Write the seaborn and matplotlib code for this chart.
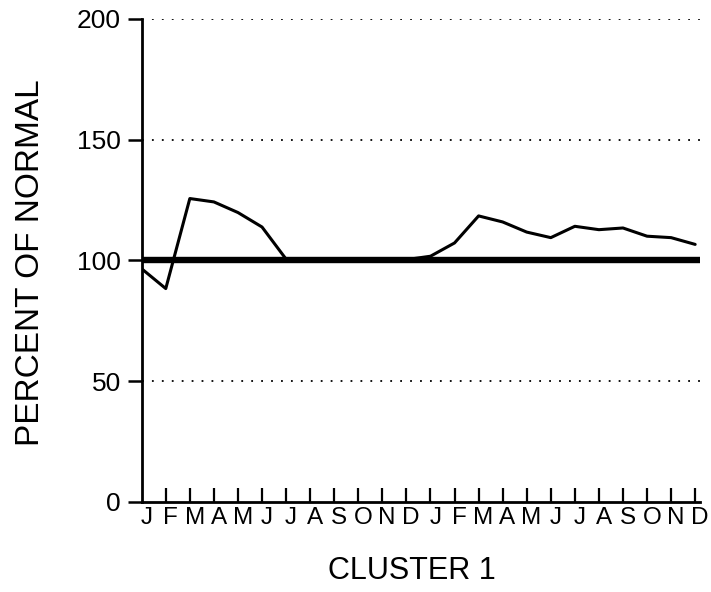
import matplotlib
matplotlib.use("Agg")
import matplotlib.pyplot as plt
import seaborn as sns
import pandas as pd

month_labels = ["J", "F", "M", "A", "M", "J", "J", "A", "S", "O", "N", "D",
                "J", "F", "M", "A", "M", "J", "J", "A", "S", "O", "N", "D"]
month_idx = list(range(24))
percent = [96.5, 88.3, 125.6, 124.2, 119.8, 113.8, 100.5, 100, 100, 100, 100, 100.3,
           101.7, 107.2, 118.4, 115.9, 111.7, 109.4, 114.1, 112.7, 113.4, 110.0,
           109.4, 106.6]
normal = 100
grid_levels = [50, 150, 200]
y_ticks = [0, 50, 100, 150, 200]

sns.set_style("white")
plt.rcParams["font.family"] = ["Liberation Sans", "DejaVu Sans"]
for k in ["text.color", "axes.labelcolor", "xtick.color", "ytick.color", "axes.edgecolor"]:
    plt.rcParams[k] = "black"
plt.rcParams["xtick.bottom"] = True
plt.rcParams["ytick.left"] = True

fig = plt.figure(figsize=(7.11, 5.92), dpi=100)
ax = fig.add_axes([0.1993, 0.1525, 0.7852, 0.8155])

df = pd.DataFrame({"month": month_idx, "pct": percent})
for g in grid_levels:
    ax.axhline(g, color="black", lw=1.3, linestyle=(0, (1, 4.5)), zorder=1)
ax.axhline(normal, color="black", lw=4.6, zorder=2)
sns.lineplot(data=df, x="month", y="pct", color="black", lw=2.2, ax=ax, zorder=3)

ax.set_xlim(0, 23.2)
ax.set_ylim(0, 200)
for s in ["top", "right"]:
    ax.spines[s].set_visible(False)
for s in ["left", "bottom"]:
    ax.spines[s].set_linewidth(2.0)
    ax.spines[s].set_color("black")
    ax.spines[s].set_capstyle("projecting")

ax.set_xticks(range(1, 24))
ax.set_xticklabels([])
ax.tick_params(axis="x", which="major", direction="in", length=10, width=1.6)
ax.set_xticks([i + 0.2 for i in range(24)], minor=True)
ax.set_xticklabels(month_labels, minor=True, fontsize=17.5)
ax.tick_params(axis="x", which="minor", length=0, pad=3.5)

ax.set_yticks(y_ticks)
ax.set_yticklabels([str(v) for v in y_ticks], fontsize=19)
ax.tick_params(axis="y", direction="out", length=10, width=1.8, pad=5)

ax.set_xlabel("")
ax.set_ylabel("")
fig.text(39 / 711, 1 - 263 / 592, "PERCENT OF NORMAL", fontsize=24, rotation=90,
         rotation_mode="anchor", ha="center", va="baseline")
fig.text(412 / 711, 1 - 579 / 592, "CLUSTER 1", fontsize=22, ha="center", va="baseline")

fig.savefig("out.png", dpi=100)
